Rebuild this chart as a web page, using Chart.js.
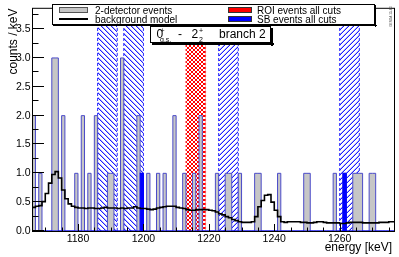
<!DOCTYPE html>
<html><head><meta charset="utf-8">
<script src="https://cdn.jsdelivr.net/npm/chart.js@4.4.1/dist/chart.umd.min.js"></script>
<style>html,body{margin:0;padding:0;background:#fff;}canvas{display:block;}</style>
</head><body>
<canvas id="c" width="399" height="257"></canvas>
<script>
// ---- data (energies in keV, 1 keV bins) ----
const binLowEdge = 1166;
const nBins = 111;
// 2-detector events: bins with content
const eventBins   = [1166,1168,1172,1173,1175,1179,1181,1183,1185,1189,1190,1193,1198,1199,1201,1204,1206,1209,1212,1215,1217,1222,1225,1226,1229,1234,1235,1241,1249,1250,1258,1261,1264,1265,1266,1269,1270];
const eventCounts = [2,   1,   3,   3,   2,   1,   2,   1,   2,   1,   1,   3,   2,   1,   1,   1,   1,   2,   1,   1,   2,   1,   1,   1,   1,   1,   1,   1,   1,   1,   1,   1,   1,   1,   1,   1,   1];
// SB events after all cuts
const sbEventBins   = [1199, 1261];
const sbEventCounts = [1, 1];
// ROI events after all cuts (none)
const roiEventBins   = [];
const roiEventCounts = [];
// background model (counts / keV), bins 1166..1276
const modelValues = [
  0.41,0.43,0.44,0.51,0.65,0.83,0.98,1.03,0.92,0.71,
  0.56,0.47,0.43,0.41,0.40,0.40,0.39,0.40,0.40,0.39,
  0.39,0.40,0.41,0.40,0.40,0.40,0.39,0.40,0.39,0.40,
  0.40,0.42,0.40,0.39,0.39,0.38,0.37,0.38,0.40,0.41,
  0.42,0.43,0.43,0.43,0.41,0.40,0.39,0.37,0.36,0.36,
  0.37,0.37,0.37,0.37,0.36,0.35,0.33,0.30,0.28,0.25,
  0.23,0.20,0.18,0.16,0.15,0.15,0.15,0.16,0.25,0.42,
  0.53,0.62,0.63,0.50,0.36,0.25,0.16,0.15,0.16,0.16,
  0.16,0.16,0.15,0.15,0.14,0.14,0.15,0.16,0.16,0.15,
  0.14,0.14,0.14,0.14,0.13,0.13,0.14,0.15,0.15,0.15,
  0.15,0.14,0.14,0.14,0.14,0.14,0.15,0.15,0.15,0.16,0.16
];
// analysis windows
const roiWindows      = [[1213, 1219]];
const sbWindowsLeft   = [[1186, 1192], [1194, 1200]];
const sbWindowsRight  = [[1223, 1229], [1260, 1266]];
// axes
const xTicks = [1180, 1200, 1220, 1240, 1260];
const yTicks = [0, 0.5, 1.0, 1.5, 2.0, 2.5, 3.0, 3.5];
const xRange = [1166.25, 1276.6];
const yRange = [0, 3.852];

// ---- helpers ----
const FONT = "'Liberation Sans', Arial, Helvetica, sans-serif";
const histLine = '#4b4bc9';
const histFill = '#c6c6c6';

function histPoints(bins, counts) {
  const arr = new Array(nBins).fill(0);
  bins.forEach((b, i) => { arr[b - binLowEdge] += counts[i]; });
  const pts = arr.map((c, i) => ({x: binLowEdge + i, y: c}));
  pts.push({x: binLowEdge + nBins, y: 0});
  return pts;
}
function modelPoints(vals) {
  const pts = vals.map((v, i) => ({x: binLowEdge + i, y: v}));
  pts.push({x: binLowEdge + vals.length, y: vals[vals.length - 1]});
  return pts;
}
function bandPoints(w) {
  return [{x: w[0], y: 0}, {x: w[0], y: 50}, {x: w[1], y: 50}, {x: w[1], y: 0}];
}
const mainCtx = document.getElementById('c').getContext('2d');
function makePattern(type, color, p, thick) {
  const c = document.createElement('canvas'); c.width = p; c.height = p;
  const g = c.getContext('2d');
  for (let i = 0; i < p; i++) {
    g.globalAlpha = 1; g.fillStyle = color;
    if (type === 'back' || type === 'cross') g.fillRect(i, i, 1, 1);
    if (type === 'fwd' || type === 'cross') g.fillRect(p - 1 - i, i, 1, 1);
    if (thick) {
      g.globalAlpha = thick;
      if (type === 'back') g.fillRect((i + 1) % p, i, 1, 1);
      if (type === 'fwd') g.fillRect((2 * p - 2 - i) % p, i, 1, 1);
    }
  }
  return mainCtx.createPattern(c, 'repeat');
}
const patBack  = makePattern('back', 'rgb(30,30,255)', 5, 0.35);
const patFwd   = makePattern('fwd',  'rgb(30,30,255)', 5, 0.35);
const patCross = makePattern('cross', 'rgb(255,0,0)', 4, 0);

const datasets = [];
sbWindowsLeft.forEach(w => datasets.push({
  data: bandPoints(w), fill: 'origin', backgroundColor: patBack,
  borderColor: 'rgb(40,40,255)', borderWidth: 1, borderDash: [3, 2], order: 5
}));
sbWindowsRight.forEach(w => datasets.push({
  data: bandPoints(w), fill: 'origin', backgroundColor: patFwd,
  borderColor: 'rgb(40,40,255)', borderWidth: 1, borderDash: [3, 2], order: 5
}));
roiWindows.forEach(w => datasets.push({
  data: bandPoints(w), fill: 'origin', backgroundColor: patCross,
  borderColor: 'rgb(255,60,60)', borderWidth: 1, borderDash: [2, 2], order: 5
}));
datasets.push({
  label: '2-detector events', data: histPoints(eventBins, eventCounts), stepped: true,
  fill: 'origin', backgroundColor: histFill, borderColor: histLine, borderWidth: 1, order: 4
});
datasets.push({
  label: 'ROI events all cuts', data: histPoints(roiEventBins, roiEventCounts), stepped: true,
  fill: 'origin', backgroundColor: '#ff0000', borderColor: 'rgba(0,0,0,0)', borderWidth: 0, order: 3
});
datasets.push({
  label: 'SB events all cuts', data: histPoints(sbEventBins, sbEventCounts), stepped: true,
  fill: 'origin', backgroundColor: '#0000ff', borderColor: '#0000ff', borderWidth: 1.2, order: 2
});
datasets.push({
  label: 'background model', data: modelPoints(modelValues), stepped: true,
  fill: false, borderColor: '#000', borderWidth: 1.6, order: 1
});

const rootStyle = {
  id: 'rootStyle',
  afterDraw(chart) {
    const {ctx, chartArea: a, scales: {x, y}} = chart;
    ctx.save();
    // inward ticks
    ctx.strokeStyle = '#000'; ctx.lineWidth = 1;
    ctx.beginPath();
    const ymaj = 11, ymin = 5.5, xmaj = 7, xmin = 3.5;
    for (let k = 0; k * 0.25 <= yRange[1]; k++) {
      const v = k * 0.25;
      const p = Math.round(y.getPixelForValue(v)) - 0.5;
      const len = yTicks.includes(v) ? ymaj : ymin;
      ctx.moveTo(a.left, p); ctx.lineTo(a.left + len, p);
    }
    for (let v = 1170; v <= xRange[1]; v += 5) {
      const p = Math.round(x.getPixelForValue(v)) + 0.5;
      const len = xTicks.includes(v) ? xmaj : xmin;
      ctx.moveTo(p, a.bottom); ctx.lineTo(p, a.bottom - len);
    }
    ctx.stroke();
    // frame
    ctx.strokeRect(a.left - 0.5, a.top - 0.5, a.right - a.left + 1, a.bottom - a.top + 1);

    // legend box
    const L = {l: 52, t: 4, r: 375, b: 25};
    ctx.fillStyle = '#000';
    ctx.fillRect(L.l + 1, L.b, L.r - L.l + 1, 1);
    ctx.fillRect(L.r, L.t + 1, 1, L.b - L.t + 1);
    ctx.fillStyle = '#fff';
    ctx.fillRect(L.l, L.t, L.r - L.l, L.b - L.t);
    ctx.strokeStyle = '#000';
    ctx.strokeRect(L.l + 0.5, L.t + 0.5, L.r - L.l - 1, L.b - L.t - 1);
    // symbols
    ctx.fillStyle = histFill; ctx.fillRect(59, 7, 29, 6);
    ctx.strokeStyle = '#555'; ctx.strokeRect(59.5, 7.5, 28, 5);
    ctx.strokeStyle = '#000'; ctx.lineWidth = 2;
    ctx.beginPath(); ctx.moveTo(59, 19); ctx.lineTo(88, 19); ctx.stroke();
    ctx.lineWidth = 1;
    ctx.fillStyle = '#ff0000'; ctx.fillRect(228, 7, 24, 6);
    ctx.fillStyle = '#0000ff'; ctx.fillRect(228, 16, 24, 6);
    ctx.strokeStyle = '#333';
    ctx.strokeRect(228.5, 7.5, 23, 5); ctx.strokeRect(228.5, 16.5, 23, 5);
    // legend text
    ctx.fillStyle = '#000';
    ctx.font = '10px ' + FONT; ctx.textBaseline = 'alphabetic'; ctx.textAlign = 'left';
    ctx.fillText('2-detector events', 95, 14.3);
    ctx.fillText('background model', 95, 22.8);
    ctx.fillText('ROI events all cuts', 257, 14.3);
    ctx.fillText('SB events all cuts', 257, 22.8);

    // transition text box
    const T = {l: 150, t: 26, r: 271, b: 43};
    ctx.fillStyle = '#000';
    ctx.fillRect(T.l + 2, T.b, T.r - T.l + 1, 2);
    ctx.fillRect(T.r, T.t + 2, 2, T.b - T.t + 1);
    ctx.fillStyle = '#fff';
    ctx.fillRect(T.l, T.t, T.r - T.l, T.b - T.t);
    ctx.strokeStyle = '#000';
    ctx.strokeRect(T.l + 0.5, T.t + 0.5, T.r - T.l - 1, T.b - T.t - 1);
    ctx.fillStyle = '#000';
    ctx.font = '12px ' + FONT;
    ctx.fillText('0', 156.5, 38.3);
    ctx.fillText('-', 178, 38.3);
    ctx.fillText('2', 191.5, 38.3);
    ctx.fillText('branch 2', 219, 38.3);
    ctx.font = '7px ' + FONT;
    ctx.fillText('+', 160.5, 32.5);
    ctx.fillText('g.s.', 160, 41.8);
    ctx.fillText('+', 199, 32.5);
    ctx.fillText('2', 199, 42);

    // axis titles
    ctx.font = '12px ' + FONT;
    ctx.textAlign = 'right';
    ctx.fillText('energy [keV]', 392, 250.5);
    ctx.save();
    ctx.translate(16.5, 8.5); ctx.rotate(-Math.PI / 2);
    ctx.fillText('counts / keV', 0, 0);
    ctx.restore();
    // small stamp
    ctx.save();
    ctx.fillStyle = '#444';
    ctx.font = '3.2px ' + FONT;
    ctx.translate(391.5, 6.5); ctx.rotate(-Math.PI / 2);
    ctx.textAlign = 'right';
    ctx.fillText('GERDA 15-03', 0, 0);
    ctx.restore();
    ctx.restore();
  }
};

new Chart(document.getElementById('c'), {
  type: 'line',
  data: {datasets},
  options: {
    responsive: false, animation: false, devicePixelRatio: 1,
    layout: {padding: {left: 0, right: 5, top: 5, bottom: 0}},
    elements: {point: {radius: 0, hoverRadius: 0}, line: {tension: 0}},
    plugins: {legend: {display: false}, tooltip: {enabled: false}},
    events: [],
    scales: {
      x: {
        type: 'linear', min: xRange[0], max: xRange[1],
        afterFit(s) { s.height = 26; },
        afterBuildTicks(s) { s.ticks = xTicks.map(v => ({value: v})); },
        grid: {display: false, drawTicks: false}, border: {display: false},
        ticks: {autoSkip: false, maxRotation: 0, padding: 2, color: '#000',
                font: {family: FONT, size: 10.5}, callback: v => String(v)}
      },
      y: {
        type: 'linear', min: yRange[0], max: yRange[1],
        afterFit(s) { s.width = 33; },
        afterBuildTicks(s) { s.ticks = yTicks.map(v => ({value: v})); },
        grid: {display: false, drawTicks: false}, border: {display: false},
        ticks: {padding: 2.5, color: '#000', font: {family: FONT, size: 10.5},
                callback: v => Number(v).toFixed(1)}
      }
    }
  },
  plugins: [rootStyle]
});
</script>
</body></html>
